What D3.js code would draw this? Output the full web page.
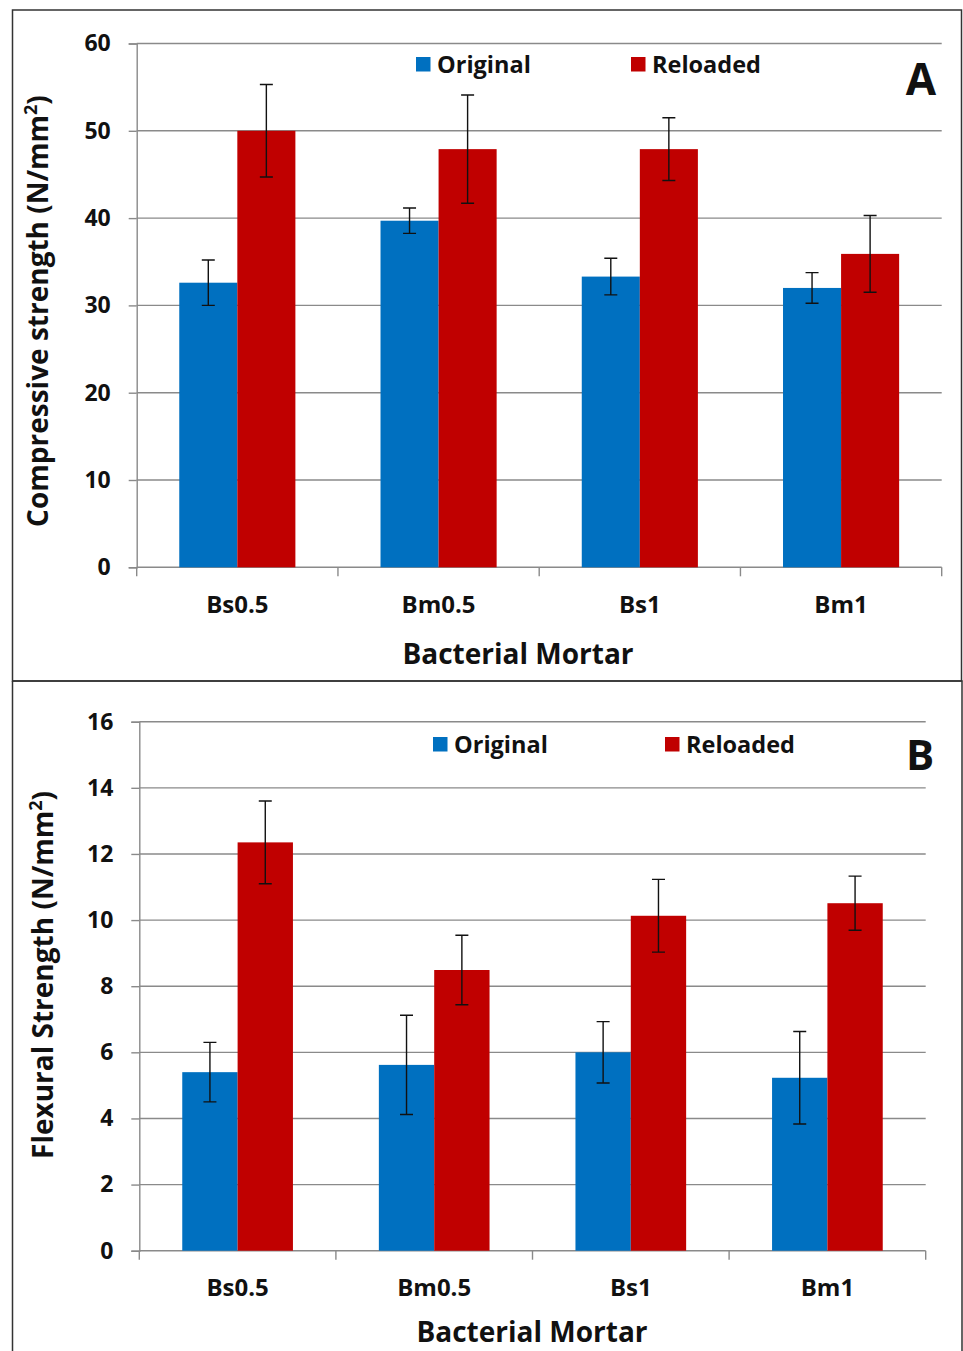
<!DOCTYPE html>
<html>
<head>
<meta charset="utf-8">
<script src="https://cdn.jsdelivr.net/npm/d3@7"></script>
<style>
  body { margin: 0; background: #fff; }
  text { font-family: "Open Sans", "Noto Sans", sans-serif; font-weight: bold; fill: #111; }
</style>
</head>
<body>
<div id="view"></div>
<script>
var width = 963, height = 1351;

// categories and series
var categories = ["Bs0.5", "Bm0.5", "Bs1", "Bm1"];
var seriesNames = ["Original", "Reloaded"];
var seriesColors = ["#0070c0", "#c00000"];

// panel A : compressive strength
var compOriginal = [32.6, 39.7, 33.3, 32.0];
var compOriginalErr = [2.6, 1.45, 2.1, 1.75];
var compReloaded = [50.0, 47.9, 47.9, 35.9];
var compReloadedErr = [5.3, 6.2, 3.6, 4.4];
var compTicks = [0, 10, 20, 30, 40, 50, 60];

// panel B : flexural strength
var flexOriginal = [5.40, 5.62, 6.00, 5.23];
var flexOriginalErr = [0.90, 1.50, 0.93, 1.40];
var flexReloaded = [12.35, 8.49, 10.13, 10.51];
var flexReloadedErr = [1.25, 1.05, 1.10, 0.82];
var flexTicks = [0, 2, 4, 6, 8, 10, 12, 14, 16];

var svg = d3.select("#view").append("svg")
	.attr("width", width)
	.attr("height", height);

// panel frames
svg.append("rect")
	.attr("x", 12.5).attr("y", 10).attr("width", 949).attr("height", 671)
	.style("fill", "none").style("stroke", "#333").style("stroke-width", 1.5);
svg.append("path")
	.attr("d", "M12.5,681 V1351 M12.5,681 H962 V1351")
	.style("fill", "none").style("stroke", "#333").style("stroke-width", 1.5);

drawPanel({
	left: 136.7, right: 941.7, top: 43.5, bottom: 567.3,
	pad: 0.423,
	max: 60, ticks: compTicks,
	values: [compOriginal, compReloaded],
	errs: [compOriginalErr, compReloadedErr],
	yTitle: "Compressive strength (N/mm", yTitleX: 48, yTitleY: 311,
	tickLabelY: 613, xTitleY: 664, xTitleX: 518,
	legendX: [416, 631], legendY: 64,
	letter: "A", letterX: 921, letterY: 95, letterSize: 44
});

drawPanel({
	left: 139.3, right: 925.7, top: 721.7, bottom: 1250.7,
	pad: 0.437,
	max: 16, ticks: flexTicks,
	values: [flexOriginal, flexReloaded],
	errs: [flexOriginalErr, flexReloadedErr],
	yTitle: "Flexural Strength (N/mm", yTitleX: 53, yTitleY: 975,
	tickLabelY: 1296, xTitleY: 1342, xTitleX: 532,
	legendX: [433, 665], legendY: 744,
	letter: "B", letterX: 920, letterY: 770, letterSize: 42
});

function drawPanel(p) {
	var g = svg.append("g");

	var x = d3.scaleBand()
		.domain(categories)
		.range([p.left, p.right])
		.paddingInner(p.pad)
		.paddingOuter(p.pad / 2);
	var xs = d3.scaleBand()
		.domain(seriesNames)
		.range([0, x.bandwidth()]);
	var y = d3.scaleLinear()
		.domain([0, p.max])
		.range([p.bottom, p.top]);

	// gridlines
	g.selectAll(".grid")
		.data(p.ticks.slice(1)).enter()
		.append("line")
		.attr("x1", p.left).attr("x2", p.right)
		.attr("y1", function(d) { return y(d); })
		.attr("y2", function(d) { return y(d); })
		.style("stroke", "#8a8a8a").style("stroke-width", 1.4);

	// y axis
	var yAxis = d3.axisLeft(y).tickValues(p.ticks).tickSize(8).tickPadding(18);
	var ya = g.append("g").attr("transform", "translate(" + p.left + ",0)").call(yAxis);
	ya.select(".domain").style("stroke", "#8a8a8a").style("stroke-width", 1.4);
	ya.selectAll(".tick line").style("stroke", "#8a8a8a").style("stroke-width", 1.4);
	ya.selectAll(".tick text")
		.style("font-size", "23px").style("fill", "#111")
		.style("font-family", "'Open Sans', sans-serif").style("font-weight", "bold");

	// x axis: ticks on band edges
	var step = x.step();
	var edges = d3.range(categories.length + 1).map(function(i) { return p.left + i * step; });
	g.append("line")
		.attr("x1", p.left).attr("x2", p.right)
		.attr("y1", p.bottom).attr("y2", p.bottom)
		.style("stroke", "#8a8a8a").style("stroke-width", 1.4);
	g.selectAll(".xtick")
		.data(edges).enter()
		.append("line")
		.attr("x1", function(d) { return d; }).attr("x2", function(d) { return d; })
		.attr("y1", p.bottom).attr("y2", p.bottom + 9)
		.style("stroke", "#8a8a8a").style("stroke-width", 1.4);
	g.selectAll(".xlabel")
		.data(categories).enter()
		.append("text")
		.attr("x", function(d) { return x(d) + x.bandwidth() / 2; })
		.attr("y", p.tickLabelY)
		.attr("text-anchor", "middle")
		.style("font-size", "24px")
		.text(function(d) { return d; });

	// bars
	seriesNames.forEach(function(s, si) {
		g.selectAll(".bar" + si)
			.data(categories).enter()
			.append("rect")
			.attr("x", function(d) { return x(d) + xs(s); })
			.attr("width", xs.bandwidth())
			.attr("y", function(d, i) { return y(p.values[si][i]); })
			.attr("height", function(d, i) { return p.bottom - y(p.values[si][i]); })
			.style("fill", seriesColors[si]);
	});

	// error bars
	seriesNames.forEach(function(s, si) {
		categories.forEach(function(c, i) {
			var cx = x(c) + xs(s) + xs.bandwidth() / 2;
			var v = p.values[si][i], e = p.errs[si][i];
			var hi = y(v + e), lo = y(v - e);
			g.append("path")
				.attr("d", "M" + cx + "," + hi + "V" + lo +
					"M" + (cx - 6.5) + "," + hi + "H" + (cx + 6.5) +
					"M" + (cx - 6.5) + "," + lo + "H" + (cx + 6.5))
				.style("fill", "none").style("stroke", "#111").style("stroke-width", 1.4);
		});
	});

	// legend
	seriesNames.forEach(function(s, si) {
		g.append("rect")
			.attr("x", p.legendX[si]).attr("y", p.legendY - 7)
			.attr("width", 14.5).attr("height", 14.5)
			.style("fill", seriesColors[si]);
		g.append("text")
			.attr("x", p.legendX[si] + 21).attr("y", p.legendY + 8.5)
			.style("font-size", "23.5px")
			.text(s);
	});

	// panel letter
	g.append("text")
		.attr("x", p.letterX).attr("y", p.letterY)
		.attr("text-anchor", "middle")
		.style("font-size", p.letterSize + "px")
		.text(p.letter);

	// y title
	var yt = g.append("text")
		.attr("transform", "translate(" + p.yTitleX + "," + p.yTitleY + ") rotate(-90)")
		.attr("text-anchor", "middle")
		.style("font-size", "28px");
	yt.append("tspan").text(p.yTitle);
	yt.append("tspan").attr("dy", -11).style("font-size", "18px").text("2");
	yt.append("tspan").attr("dy", 11).text(")");

	// x title
	g.append("text")
		.attr("x", p.xTitleX).attr("y", p.xTitleY)
		.attr("text-anchor", "middle")
		.style("font-size", "28px")
		.text("Bacterial Mortar");
}
</script>
</body>
</html>
